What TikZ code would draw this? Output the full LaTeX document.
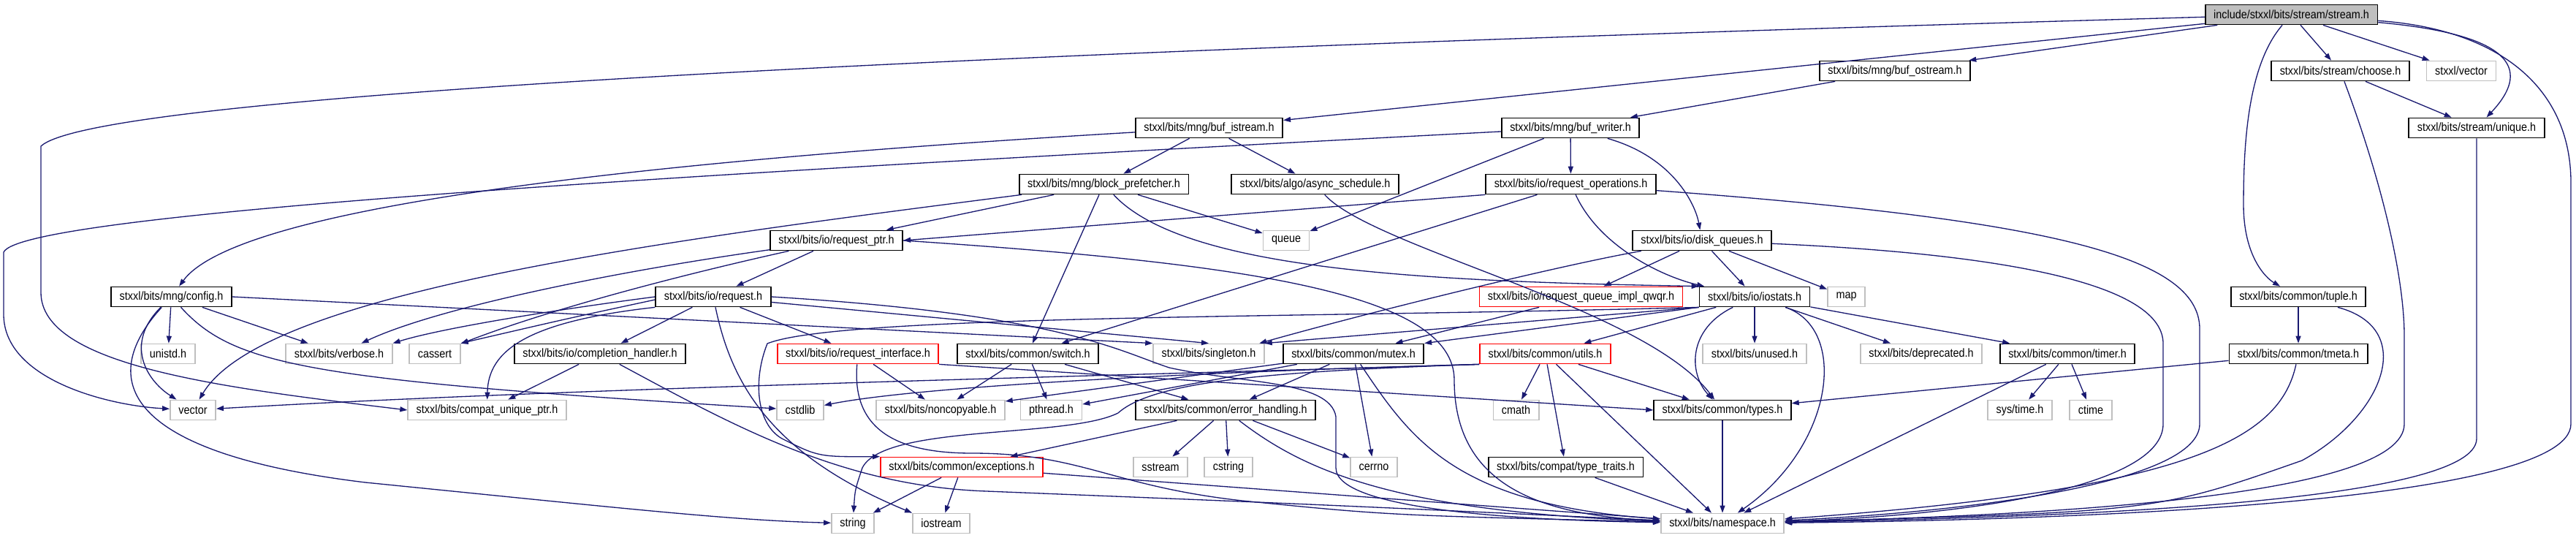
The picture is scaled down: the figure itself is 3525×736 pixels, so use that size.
\documentclass[tikz,border=0pt]{standalone}
\usepackage{fontspec}
\setmainfont[FakeStretch=0.89]{Liberation Sans}
\usepackage{tikz}
\usetikzlibrary{arrows.meta}
\definecolor{edgeblue}{RGB}{25,25,112}
\definecolor{boxgray}{RGB}{191,191,191}
\tikzset{
  docbox/.style={draw=black, fill=white},
  extbox/.style={draw=boxgray, fill=white},
  redbox/.style={draw=red, fill=white},
  rootbox/.style={draw=black, fill=boxgray},
  dep/.style={->, draw=edgeblue, line width=0.75pt}
}

\begin{document}
\begin{tikzpicture}[x=0.2mm, y=-0.2mm,
    >={Triangle[length=2mm,width=1.4mm]},
    every node/.style={font=\fontsize{9.2}{10}\selectfont, inner xsep=2.3mm,
      inner ysep=0pt, minimum height=5.4mm, line width=1pt}]
    \useasboundingbox (0,0) rectangle (3525,736);

    \node[rootbox] (stream) at (3135.5,20) {include/stxxl/bits/stream/stream.h};

    \node[docbox] (bufostream) at (2593,97) {stxxl/bits/mng/buf\_ostream.h};
    \node[docbox] (choose) at (3202.5,97) {stxxl/bits/stream/choose.h};
    \node[extbox] (svector) at (3368,97) {stxxl/vector};

    \node[docbox] (bufistream) at (1654.5,175) {stxxl/bits/mng/buf\_istream.h};
    \node[docbox] (bufwriter) at (2149,175) {stxxl/bits/mng/buf\_writer.h};
    \node[docbox] (unique) at (3389,175) {stxxl/bits/stream/unique.h};

    \node[docbox] (prefetch) at (1510.5,252) {stxxl/bits/mng/block\_prefetcher.h};
    \node[docbox] (async) at (1799.5,252) {stxxl/bits/algo/async\_schedule.h};
    \node[docbox] (reqops) at (2149.5,252) {stxxl/bits/io/request\_operations.h};

    \node[docbox] (reqptr) at (1144.5,329) {stxxl/bits/io/request\_ptr.h};
    \node[extbox] (queue) at (1760,329) {queue};
    \node[docbox] (diskq) at (2329,329) {stxxl/bits/io/disk\_queues.h};

    \node[docbox] (config) at (234.5,406) {stxxl/bits/mng/config.h};
    \node[docbox] (request) at (976,406) {stxxl/bits/io/request.h};
    \node[redbox] (qwqr) at (2163.5,406) {stxxl/bits/io/request\_queue\_impl\_qwqr.h};
    \node[docbox] (iostats) at (2401,406) {stxxl/bits/io/iostats.h};
    \node[extbox] (map) at (2526.5,406) {map};
    \node[docbox] (tuple) at (3145,406) {stxxl/bits/common/tuple.h};

    \node[extbox] (unistd) at (230,484) {unistd.h};
    \node[extbox] (verbose) at (464,484) {stxxl/bits/verbose.h};
    \node[extbox] (cassert) at (595,484) {cassert};
    \node[docbox] (completion) at (821,484) {stxxl/bits/io/completion\_handler.h};
    \node[redbox] (reqiface) at (1174,484) {stxxl/bits/io/request\_interface.h};
    \node[docbox] (switch) at (1406.5,484) {stxxl/bits/common/switch.h};
    \node[extbox] (singleton) at (1654,484) {stxxl/bits/singleton.h};
    \node[docbox] (mutex) at (1852,484) {stxxl/bits/common/mutex.h};
    \node[redbox] (utils) at (2114.5,484) {stxxl/bits/common/utils.h};
    \node[extbox] (unused) at (2401,484) {stxxl/bits/unused.h};
    \node[extbox] (deprecated) at (2629,484) {stxxl/bits/deprecated.h};
    \node[docbox] (timer) at (2829,484) {stxxl/bits/common/timer.h};
    \node[docbox] (tmeta) at (3145,484) {stxxl/bits/common/tmeta.h};

    \node[extbox] (vector) at (264,561) {vector};
    \node[extbox] (compat) at (666.5,561) {stxxl/bits/compat\_unique\_ptr.h};
    \node[extbox] (cstdlib) at (1095,561) {cstdlib};
    \node[extbox] (noncopy) at (1287,561) {stxxl/bits/noncopyable.h};
    \node[extbox] (pthread) at (1438.5,561) {pthread.h};
    \node[docbox] (errhand) at (1677,561) {stxxl/bits/common/error\_handling.h};
    \node[extbox] (cmath) at (2074.5,561) {cmath};
    \node[docbox] (types) at (2357,561) {stxxl/bits/common/types.h};
    \node[extbox] (systime) at (2764,561) {sys/time.h};
    \node[extbox] (ctime) at (2861,561) {ctime};

    \node[redbox] (exceptions) at (1316,639) {stxxl/bits/common/exceptions.h};
    \node[extbox] (sstream) at (1588,639) {sstream};
    \node[extbox] (cstring) at (1681,639) {cstring};
    \node[extbox] (cerrno) at (1880,639) {cerrno};
    \node[docbox] (typetraits) at (2142.5,639) {stxxl/bits/compat/type\_traits.h};

    \node[extbox] (string) at (1167,716) {string};
    \node[extbox] (iostream) at (1288,716) {iostream};
    \node[extbox] (namespace) at (2357,716) {stxxl/bits/namespace.h};

    \draw[dep] (stream) -- (bufistream);
    \draw[dep] (stream) -- (bufostream);
    \draw[dep] (stream) -- (choose);
    \draw[dep] (stream) -- (svector);
    \draw[dep] (stream) .. controls (3470,50) and (3450,110) .. (unique);
    \draw[dep] (stream) .. controls (3075,90) and (3070,200) .. (3070,280)
      .. controls (3070,350) and (3100,380) .. (tuple);
    \draw[dep] (stream) .. controls (3420,40) and (3518,120) .. (3518,250) -- (3518,580)
      .. controls (3518,690) and (2800,712) .. (namespace);
    \draw[dep] (stream) .. controls (1000,80) and (120,140) .. (56,200) -- (56,400)
      .. controls (56,500) and (300,530) .. (compat.west);

    \draw[dep] (choose) -- (unique);
    \draw[dep] (choose) .. controls (3260,250) and (3290,380) .. (3290,460) -- (3290,580)
      .. controls (3290,680) and (2800,705) .. (namespace);
    \draw[dep] (unique) -- (3389,600) .. controls (3389,690) and (2800,708) .. (namespace);
    \draw[dep] (bufostream) -- (bufwriter);

    \draw[dep] (bufistream) .. controls (800,225) and (320,290) .. (config);
    \draw[dep] (bufistream) -- (prefetch);
    \draw[dep] (bufistream) -- (async);

    \draw[dep] (bufwriter) .. controls (1000,235) and (30,290) .. (5,345) -- (5,430)
      .. controls (5,520) and (150,555) .. (vector);
    \draw[dep] (bufwriter) -- (queue);
    \draw[dep] (bufwriter) -- (reqops);
    \draw[dep] (bufwriter) .. controls (2290,215) and (2320,280) .. (diskq);

    \draw[dep] (prefetch) .. controls (900,330) and (360,400) .. (vector);
    \draw[dep] (prefetch) -- (reqptr);
    \draw[dep] (prefetch) -- (switch);
    \draw[dep] (prefetch) -- (queue);
    \draw[dep] (prefetch) .. controls (1620,370) and (1950,385) .. (iostats.north west);
    \draw[dep] (async) .. controls (1880,340) and (2250,420) .. (types);

    \draw[dep] (reqops.south west) -- (reqptr.east);
    \draw[dep] (reqops) -- (switch);
    \draw[dep] (reqops) .. controls (2190,340) and (2280,380) .. ([xshift=1.5mm]iostats.north west);
    \draw[dep] (reqops) .. controls (2800,300) and (3010,350) .. (3010,450) -- (3010,580)
      .. controls (3010,660) and (2700,700) .. (namespace);

    \draw[dep] (diskq) -- (map);
    \draw[dep] (diskq) -- (iostats);
    \draw[dep] (diskq) -- (qwqr);
    \draw[dep] (diskq) .. controls (2150,360) and (1900,420) .. ([xshift=-1.5mm]singleton.north east);
    \draw[dep] (diskq) .. controls (2800,350) and (2960,400) .. (2960,470) -- (2960,580)
      .. controls (2960,665) and (2700,705) .. (namespace);

    \draw[dep] (reqptr) -- (request);
    \draw[dep] (reqptr) .. controls (850,370) and (600,420) .. (verbose);
    \draw[dep] (reqptr) .. controls (950,372) and (760,420) .. (cassert);
    \draw[dep] (reqptr.east) .. controls (1700,360) and (1990,400) .. (1990,520)
      .. controls (1990,660) and (2100,705) .. (namespace);

    \draw[dep] (config) -- (unistd);
    \draw[dep] (config) .. controls (170,470) and (200,520) .. (vector);
    \draw[dep] (config) -- (verbose);
    \draw[dep] (config.east) -- (singleton.north west);
    \draw[dep] (config) .. controls (320,500) and (420,520) .. (cstdlib);
    \draw[dep] (config) .. controls (130,520) and (170,620) .. (500,660)
      .. controls (850,695) and (1000,712) .. (string);

    \draw[dep] (request.west) .. controls (750,425) and (600,450) .. (verbose.north east);
    \draw[dep] ([yshift=-0.8mm]request.west) .. controls (780,435) .. (cassert.north east);
    \draw[dep] (request.south west) .. controls (720,440) and (668,480) .. (compat);
    \draw[dep] (request) -- (completion);
    \draw[dep] (request) -- (reqiface);
    \draw[dep] (request) -- (singleton.north);
    \draw[dep] (request) .. controls (1000,520) and (1050,620) .. (iostream.north west);
    \draw[dep] (request.east) .. controls (1450,430) and (1530,480) .. (1600,503)
      .. controls (1700,525) and (1820,520) .. (1828,570) -- (1828,640)
      .. controls (1828,700) and (2100,712) .. (namespace);

    \draw[dep] (completion) -- (compat);
    \draw[dep] (completion) .. controls (1000,580) and (1150,665) .. (1350,672)
      .. controls (1800,690) .. (namespace);

    \draw[dep] (reqiface) -- (noncopy);
    \draw[dep] (reqiface.south east) -- (types.west);
    \draw[dep] (reqiface) .. controls (1165,590) and (1230,620) .. (1330,620)
      .. controls (1480,620) and (1520,665) .. (1700,685) .. controls (1900,705) .. (namespace);

    \draw[dep] (switch) -- (noncopy);
    \draw[dep] (switch) -- (pthread);
    \draw[dep] (switch) -- (errhand);

    \draw[dep] (mutex) -- (noncopy);
    \draw[dep] (mutex) -- (pthread);
    \draw[dep] (mutex) -- (errhand);
    \draw[dep] (mutex) -- (cerrno);
    \draw[dep] (mutex) .. controls (1930,600) and (1990,690) .. (namespace);

    \draw[dep] (errhand) -- (exceptions);
    \draw[dep] (errhand) -- (sstream);
    \draw[dep] (errhand) -- (cstring);
    \draw[dep] (errhand) -- (cerrno);
    \draw[dep] (errhand) .. controls (1780,640) and (1900,700) .. (namespace);

    \draw[dep] (exceptions) -- (string);
    \draw[dep] (exceptions) -- (iostream);
    \draw[dep] (exceptions) -- (namespace);

    \draw[dep] (qwqr) -- (mutex);

    \draw[dep] (iostats) -- (utils);
    \draw[dep] (iostats.south west) -- (mutex.north east);
    \draw[dep] (iostats.south west) -- (singleton.north east);
    \draw[dep] (iostats) .. controls (2310,450) and (2310,510) .. (types);
    \draw[dep] (iostats) -- (unused);
    \draw[dep] (iostats) -- (deprecated);
    \draw[dep] (iostats) -- (timer);
    \draw[dep] (iostats) .. controls (2530,450) and (2510,610) .. (namespace);
    \draw[dep] (iostats.south west) .. controls (1800,435) and (1150,430) .. (1050,470)
      .. controls (1030,520) and (1035,580) .. (1070,600) .. controls (1120,625) .. (exceptions.north west);

    \draw[dep] (utils.south west) .. controls (1500,515) and (800,530) .. (vector);
    \draw[dep] (utils.south west) .. controls (1600,510) and (1250,530) .. (cstdlib);
    \draw[dep] (utils.south west) .. controls (1750,508) and (1580,520) .. (1530,565)
      .. controls (1460,600) and (1210,580) .. (1180,640) .. controls (1170,670) .. (string);
    \draw[dep] (utils) -- (cmath);
    \draw[dep] (utils) -- (typetraits);
    \draw[dep] (utils) -- (types);
    \draw[dep] (utils) -- (namespace);

    \draw[dep] (types) -- (namespace);
    \draw[dep] (typetraits) -- (namespace);

    \draw[dep] (timer) -- (systime);
    \draw[dep] (timer) -- (ctime);
    \draw[dep] (timer) -- (namespace);

    \draw[dep] (tuple) -- (tmeta);
    \draw[dep] (tuple) .. controls (3310,450) and (3260,570) .. (3150,630)
      .. controls (2950,700) .. (namespace);
    \draw[dep] (tmeta) -- (types);
    \draw[dep] (tmeta) .. controls (3120,600) and (3000,670) .. (namespace);
\end{tikzpicture}
\end{document}
